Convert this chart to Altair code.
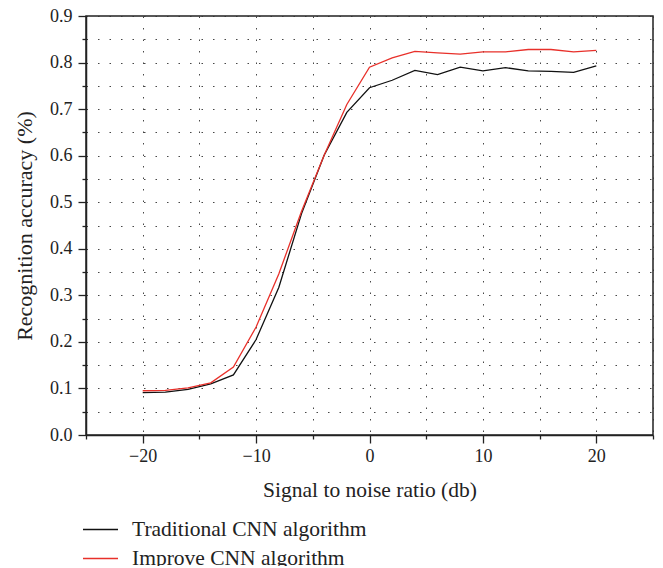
import altair as alt
import pandas as pd

snr = [-20, -18, -16, -14, -12, -10, -8, -6, -4, -2, 0, 2, 4, 6, 8, 10, 12, 14, 16, 18, 20]
traditional = [0.091, 0.092, 0.098, 0.110, 0.129, 0.205, 0.317, 0.475, 0.601, 0.693, 0.746,
               0.762, 0.783, 0.774, 0.790, 0.782, 0.789, 0.782, 0.781, 0.779, 0.793]
improve = [0.095, 0.096, 0.101, 0.112, 0.146, 0.232, 0.346, 0.480, 0.601, 0.710, 0.790,
           0.810, 0.824, 0.821, 0.818, 0.823, 0.823, 0.828, 0.828, 0.823, 0.826]
series_names = ["Traditional CNN algorithm", "Improve CNN algorithm"]
series_colors = ["#111111", "#e8302a"]
x_ticks = [-25, -20, -15, -10, -5, 0, 5, 10, 15, 20, 25]
y_ticks = [round(i * 0.05, 2) for i in range(19)]

rows = []
for s, vals in zip(series_names, [traditional, improve]):
    for x, v in zip(snr, vals):
        rows.append({"snr": x, "acc": v, "series": s})
df = pd.DataFrame(rows)

FONT = "Liberation Serif"

chart = alt.Chart(df).mark_line(strokeWidth=1.3).encode(
    x=alt.X("snr:Q",
            scale=alt.Scale(domain=[-25, 25], nice=False, zero=False),
            axis=alt.Axis(values=x_ticks, title="Signal to noise ratio (db)",
                          labelExpr="datum.value % 10 === 0 && abs(datum.value) < 25 ? datum.label : ''",
                          tickSize={"condition": {"test": "datum.value % 10 === 0", "value": 8}, "value": 4},
                          labelPadding=4, titlePadding=14, titleFontSize=21.5)),
    y=alt.Y("acc:Q",
            scale=alt.Scale(domain=[0, 0.9], nice=False),
            axis=alt.Axis(values=y_ticks, title="Recognition accuracy (%)", format=".1f",
                          labelExpr="round(datum.value*100) % 10 === 0 ? datum.label : ''",
                          tickSize={"condition": {"test": "round(datum.value*100) % 10 === 0", "value": 8}, "value": 4},
                          labelPadding=6, titlePadding=13, titleFontSize=22)),
    color=alt.Color("series:N",
                    scale=alt.Scale(domain=series_names, range=series_colors),
                    legend=alt.Legend(title=None, orient="none", legendX=-4, legendY=495,
                                      symbolType="M-1,0H1", symbolSize=1225, symbolStrokeWidth=1.3,
                                      labelFont=FONT, labelFontSize=21.5, labelColor="#222", labelLimit=400,
                                      rowPadding=-2, labelOffset=13, direction="vertical")),
).properties(
    width=567, height=419, background="white",
    autosize=alt.AutoSizeParams(type="none"),
    padding={"left": 78, "top": 8, "right": 2, "bottom": 131},
).configure_view(
    stroke="#222", strokeWidth=1.5
).configure_axis(
    domainColor="#222", domainWidth=1.5, tickColor="#222", tickWidth=1.3,
    grid=True, gridColor="#333", gridDash=[1.5, 10], gridWidth=1, gridOpacity=0.9,
    labelFont=FONT, labelFontSize=18, labelColor="#222",
    titleFont=FONT, titleFontWeight="normal", titleColor="#222",
)

chart.save("out.html", embed_options={"renderer": "svg", "actions": False})
